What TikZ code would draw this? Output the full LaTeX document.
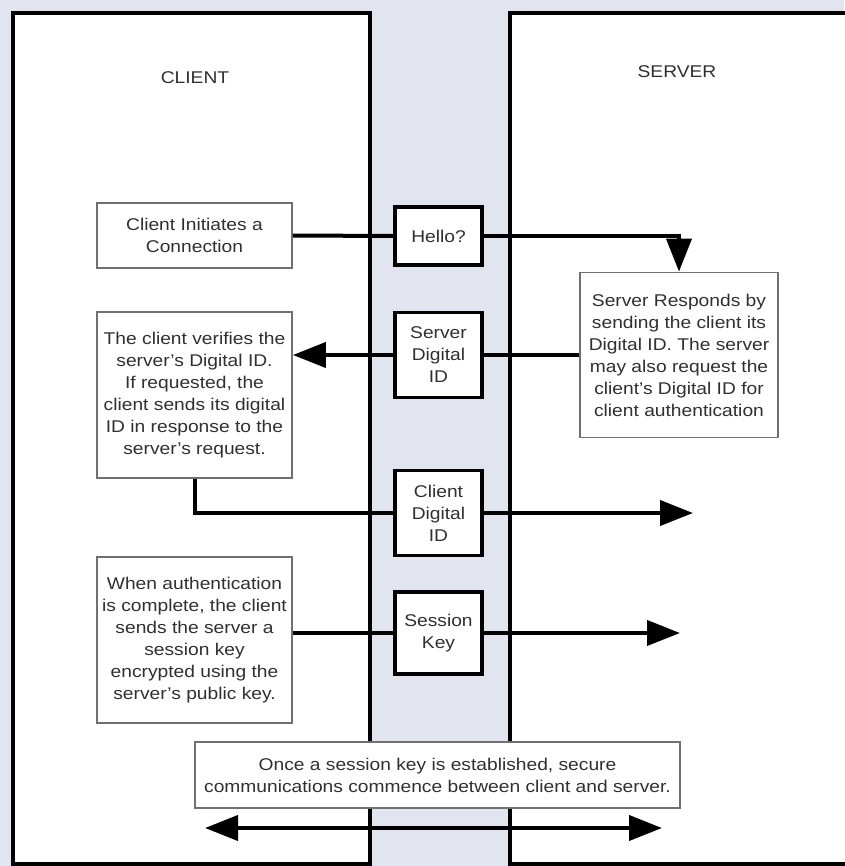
\documentclass[tikz,border=0pt]{standalone}
\usepackage{fontspec}
\setmainfont{Liberation Sans}[FakeStretch=1.13]
\usetikzlibrary{arrows.meta}
\definecolor{lane}{HTML}{E2E5EF}
\definecolor{boxgray}{HTML}{707070}
\definecolor{ink}{HTML}{303030}
\begin{document}
\begin{tikzpicture}[x=1pt,y=-1pt,
  panel/.style={draw=black,line width=3.5pt,fill=white},
  lbl/.style={text=ink,font=\fontsize{17}{22}\selectfont},
  textbox/.style={draw=boxgray,line width=1.8pt,fill=white,align=center,text=ink,
    font=\fontsize{17}{22}\selectfont,inner sep=0pt},
  msgbox/.style={draw=black,line width=3.5pt,fill=white,align=center,text=ink,
    font=\fontsize{17}{22}\selectfont,inner sep=0pt,minimum width=87pt},
  conn/.style={line width=4pt,draw=black},
  tip/.style={-{Triangle[length=33pt,width=25pt]}},
  tips/.style={{Triangle[length=33pt,width=25pt]}-{Triangle[length=33pt,width=25pt]}}
]
\useasboundingbox (0,0) rectangle (844,866);
\fill[lane] (0,0) rectangle (844,866);
% panels
\draw[panel] (13,13) rectangle (370,864);
\draw[panel] (510,13) rectangle (860,864);
\node[lbl] (client) at (195,78) {CLIENT};
\node[lbl] (server) at (677,72) {SERVER};
% left text boxes
\node[textbox,minimum width=195pt,minimum height=65pt] (cinit) at (194.5,235.5)
  {Client Initiates a\\Connection};
\node[textbox,minimum width=195pt,minimum height=166pt] (cver) at (194.5,395)
  {The client verifies the\\server's Digital ID.\\If requested, the\\client sends its digital\\ID in response to the\\server's request.};
\node[textbox,minimum width=195pt,minimum height=166pt] (auth) at (194.5,640)
  {When authentication\\is complete, the client\\sends the server a\\session key\\encrypted using the\\server's public key.};
% server box
\node[textbox,minimum width=198pt,minimum height=165pt] (sresp) at (679,355)
  {Server Responds by\\sending the client its\\Digital ID. The server\\may also request the\\client's Digital ID for\\client authentication};
% message boxes
\node[msgbox,minimum height=58pt] (hello) at (438.5,236) {Hello?};
\node[msgbox,minimum height=85pt] (sdid) at (438.5,355) {Server\\Digital\\ID};
\node[msgbox,minimum height=85pt] (cdid) at (438.5,513) {Client\\Digital\\ID};
\node[msgbox,minimum height=82pt] (skey) at (438.5,633) {Session\\Key};
% bottom box
\node[textbox,minimum width=485pt,minimum height=66pt] (final) at (437.5,775)
  {Once a session key is established, secure\\communications commence between client and server.};
% free ends
\coordinate (cdidend) at (693,513);
\coordinate (skeyend) at (680,633);
\coordinate (dl) at (205,828);
\coordinate (dr) at (662,828);
% connectors
\draw[conn] (cinit.east) -- (hello.west);
\draw[conn,tip] (hello.east) -- (hello.east -| sresp.north) -- (sresp.north);
\draw[conn] (sresp.west) -- (sdid.east);
\draw[conn,tip] (sdid.west) -- (sdid.west -| cver.east);
\draw[conn] (cver.south) -- (cver.south |- cdid.west) -- (cdid.west);
\draw[conn,tip] (cdid.east) -- (cdidend);
\draw[conn] (auth.east |- skey.west) -- (skey.west);
\draw[conn,tip] (skey.east) -- (skeyend);
\draw[conn,tips] (dl) -- (dr);
\end{tikzpicture}
\end{document}
